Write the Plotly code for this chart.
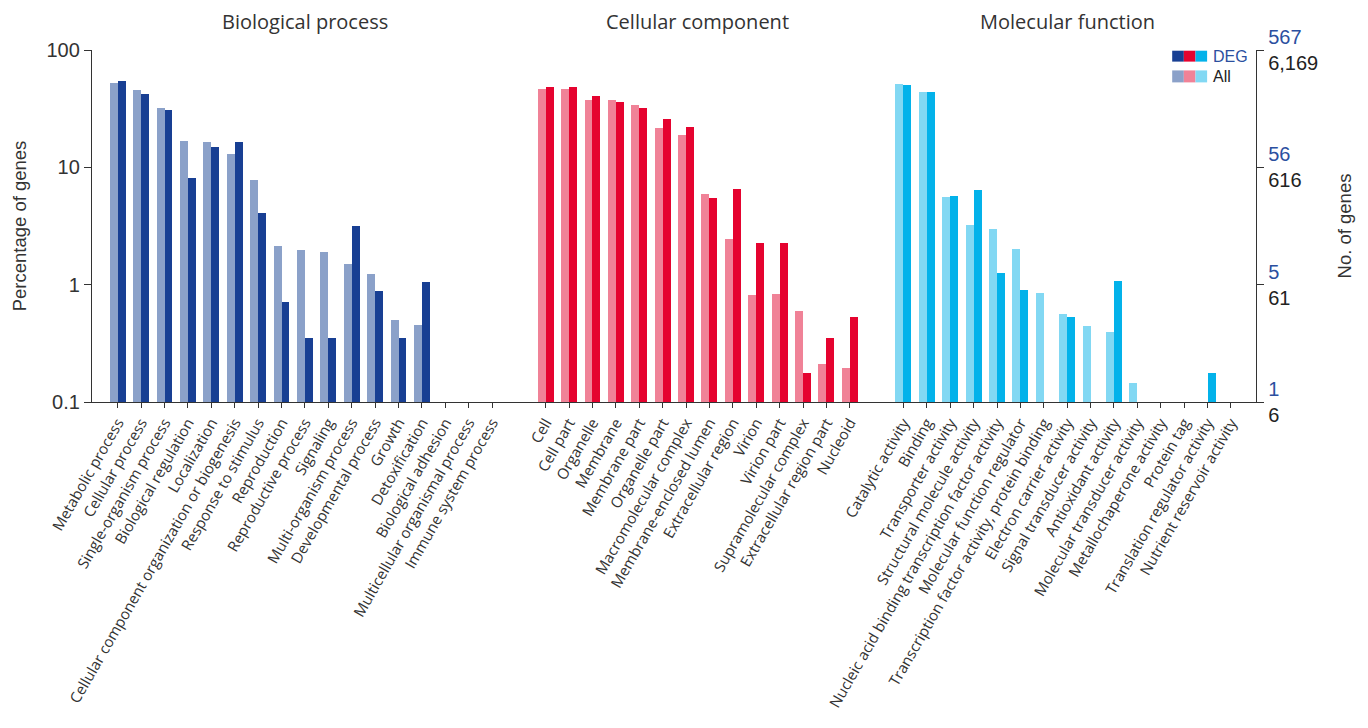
import plotly.graph_objects as go

# ---------------- data ----------------
bp_categories = ["Metabolic process", "Cellular process", "Single-organism process",
                 "Biological regulation", "Localization",
                 "Cellular component organization or biogenesis", "Response to stimulus",
                 "Reproduction", "Reproductive process", "Signaling",
                 "Multi-organism process", "Developmental process", "Growth",
                 "Detoxification", "Biological adhesion",
                 "Multicellular organismal process", "Immune system process"]
bp_all = [52.5, 45.7, 32.1, 16.8, 16.5, 13.0, 7.8, 2.14, 1.98, 1.91, 1.51, 1.24, 0.50, 0.45,
          None, None, None]
bp_deg = [54.6, 42.3, 30.9, 8.1, 14.9, 16.5, 4.1, 0.71, 0.35, 0.35, 3.17, 0.88, 0.35, 1.06,
          None, None, None]

cc_categories = ["Cell", "Cell part", "Organelle", "Membrane", "Membrane part",
                 "Organelle part", "Macromolecular complex", "Membrane-enclosed lumen",
                 "Extracellular region", "Virion", "Virion part",
                 "Supramolecular complex", "Extracellular region part", "Nucleoid"]
cc_all = [46.6, 46.6, 37.6, 37.6, 34.1, 21.7, 18.9, 5.95, 2.46, 0.82, 0.84, 0.60, 0.21, 0.196]
cc_deg = [48.5, 48.5, 40.6, 36.1, 32.1, 25.9, 22.1, 5.5, 6.56, 2.27, 2.27, 0.176, 0.353, 0.53]

mf_categories = ["Catalytic activity", "Binding", "Transporter activity",
                 "Structural molecule activity",
                 "Nucleic acid binding transcription factor activity",
                 "Molecular function regulator",
                 "Transcription factor activity, protein binding",
                 "Electron carrier activity", "Signal transducer activity",
                 "Antioxidant activity", "Molecular transducer activity",
                 "Metallochaperone activity", "Protein tag",
                 "Translation regulator activity", "Nutrient reservoir activity"]
mf_all = [51.4, 44.0, 5.61, 3.24, 2.99, 2.02, 0.85, 0.565, 0.447, 0.397, 0.146,
          None, None, None, None]
mf_deg = [50.4, 44.0, 5.72, 6.43, 1.26, 0.905, None, 0.533, None, 1.08, None,
          None, None, 0.176, None]

group_titles = ["Biological process", "Cellular component", "Molecular function"]

left_tickvals = [0.1, 1, 10, 100]
left_ticktext = ["0.1", "1", "10", "100"]
deg_counts = ["1", "5", "56", "567"]
all_counts = ["6", "61", "616", "6,169"]

# ---------------- styles ----------------
colors_all = ["#8ba1c9", "#f08297", "#82d8f3"]
colors_deg = ["#183f93", "#e5032f", "#03b2ea"]
blue_text = "#2b4f9f"
axis_col = "#333333"
GAP = 2.29          # spacing between groups (in category units)
BW = 0.34           # bar width (category units)

groups = [(bp_categories, bp_all, bp_deg),
          (cc_categories, cc_all, cc_deg),
          (mf_categories, mf_all, mf_deg)]

fig = go.Figure()
tickvals, ticktext, centers = [], [], []
start = 0.0
for gi, (cats, a_vals, d_vals) in enumerate(groups):
    pos = [start + i for i in range(len(cats))]
    tickvals += pos
    ticktext += cats
    centers.append((pos[0] + pos[-1]) / 2)
    fig.add_trace(go.Bar(x=pos, y=a_vals, width=BW, offset=-BW,
                         marker=dict(color=colors_all[gi], line=dict(width=0)),
                         showlegend=False, name="All"))
    fig.add_trace(go.Bar(x=pos, y=d_vals, width=BW, offset=0,
                         marker=dict(color=colors_deg[gi], line=dict(width=0)),
                         showlegend=False, name="DEG"))
    start = pos[-1] + GAP

# dummy trace so the right axis is drawn
fig.add_trace(go.Scatter(x=[None], y=[None], yaxis="y2", showlegend=False,
                         hoverinfo="skip"))

xmin = tickvals[0] - 1.1
xmax = tickvals[-1] + 1.07

right_text = [f"<span style='color:{blue_text}'>{d}</span><br>{a}"
              for d, a in zip(deg_counts, all_counts)]

annotations = []
for title, c in zip(group_titles, centers):
    annotations.append(dict(x=c, xref="x", y=1.08, yref="paper", text=title,
                            showarrow=False, yanchor="middle", xanchor="center",
                            font=dict(family="Open Sans", size=20, color="#333333")))

# custom legend (three colour swatches per row)
sw_w = 0.01
sw_x0 = 0.928
rows = [("DEG", colors_deg, blue_text, 0.967, 0.998),
        ("All", colors_all, "#222222", 0.908, 0.942)]
shapes = []
for label, cols, tcol, y0, y1 in rows:
    for k, c in enumerate(cols):
        shapes.append(dict(type="rect", xref="paper", yref="paper",
                           x0=sw_x0 + k * sw_w, x1=sw_x0 + (k + 1) * sw_w,
                           y0=y0, y1=y1, fillcolor=c, line=dict(width=0)))
    annotations.append(dict(x=sw_x0 + 3 * sw_w + 0.003, xref="paper",
                            y=(y0 + y1) / 2, yref="paper", text=label,
                            showarrow=False, xanchor="left", yanchor="middle",
                            font=dict(family="Liberation Sans", size=16, color=tcol)))

fig.update_layout(
    width=1368, height=728,
    margin=dict(l=92, r=112, t=50, b=326),
    paper_bgcolor="white", plot_bgcolor="white",
    barmode="overlay", bargap=0,
    font=dict(family="Liberation Sans", color=axis_col),
    xaxis=dict(range=[xmin, xmax], tickvals=tickvals, ticktext=ticktext,
               tickangle=-60, tickfont=dict(family="Open Sans", size=15, color="#333333"),
               showline=True, linecolor=axis_col, linewidth=1.3,
               ticks="outside", ticklen=5, tickcolor=axis_col, tickwidth=1.3,
               showgrid=False, zeroline=False),
    yaxis=dict(type="log", range=[-1, 2], tickvals=left_tickvals, ticktext=left_ticktext,
               tickfont=dict(family="Liberation Sans", size=20, color="#333333"),
               showline=True, linecolor=axis_col, linewidth=1.3,
               ticks="outside", ticklen=7, tickcolor=axis_col, tickwidth=1.3,
               showgrid=False, zeroline=False,
               title=dict(text="Percentage of genes", standoff=14,
                          font=dict(family="Liberation Sans", size=18.5, color="#333333"))),
    yaxis2=dict(type="log", range=[-1, 2], overlaying="y", side="right",
                tickvals=left_tickvals, ticktext=right_text,
                tickfont=dict(family="Liberation Sans", size=20, color="#222222"),
                showline=True, linecolor=axis_col, linewidth=1.3,
                ticks="outside", ticklen=7, tickcolor=axis_col, tickwidth=1.3,
                showgrid=False, zeroline=False,
                title=dict(text="No. of genes", standoff=20,
                           font=dict(family="Liberation Sans", size=18.5, color="#333333"))),
    annotations=annotations, shapes=shapes,
)

fig.write_html("out.html")
